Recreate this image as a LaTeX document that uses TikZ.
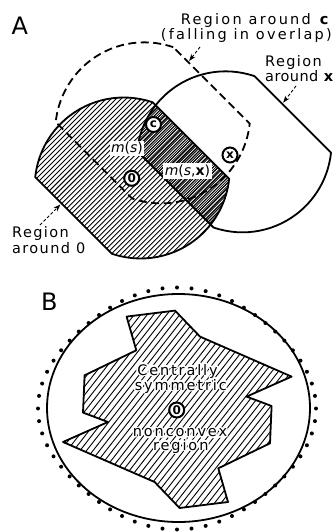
\documentclass[tikz,border=0pt]{standalone}
\usepackage{fontspec}
\setmainfont{DejaVu Sans}
\newfontfamily\labfont{DejaVu Sans}[LetterSpace=9.5]
\newfontfamily\labfontwide{DejaVu Sans}[LetterSpace=15.5]
\newfontfamily\labfontmid{DejaVu Sans}[LetterSpace=13]
\newfontfamily\labfonttight{DejaVu Sans}[LetterSpace=3]
\usepackage{contour}
\contourlength{1.4pt}
\contournumber{16}
\usetikzlibrary{arrows.meta}

\tikzset{
  outline/.style={line width=1.8pt, line join=round},
  dashline/.style={line width=1.8pt, dash pattern=on 8pt off 4.5pt},
  hatch/.style={line width=0.9pt},
  densehatch/.style={line width=0.75pt},
  lab/.style={font=\labfont\fontsize{14.5}{16}\selectfont, inner sep=0pt},
  labwide/.style={font=\labfontwide\fontsize{14.5}{16}\selectfont, inner sep=0pt},
  labtight/.style={font=\labfonttight\fontsize{14.5}{16}\selectfont, inner sep=0pt},
  blab/.style={font=\labfontmid\fontsize{14.5}{16}\selectfont, inner sep=0pt},
  mlab/.style={font=\fontsize{14}{16}\selectfont, fill=white, inner sep=1.5pt},
  panel/.style={font=\fontsize{24}{24}\selectfont, inner sep=0pt},
  pointer/.style={line width=0.9pt, dash pattern=on 3pt off 2pt, -{Stealth[length=7pt,width=5pt]}},
  sym/.style={circle, draw, line width=2pt, fill=white, inner sep=0pt, minimum size=15pt, font=\bfseries\fontsize{12}{12}\selectfont},
  ofr/.style={shift={(132.2,178)}, x={(0.7071pt,-0.7071pt)}, y={(0.7071pt,0.7071pt)}},
  xfr/.style={shift={(53.5,90.5)}},
  cfr/.style={shift={(-24.5,53.5)}},
  dotmark/.style={fill=black},
}
\def\regionpath{(-39,68) arc[start angle=116, end angle=219, radius=89] -- (39,-68) arc[start angle=-64, end angle=39, radius=89] -- cycle}
\def\polyB{(-50.7,-92.7) -- (-2.3,-98.7) -- (22.7,-72.7) -- (114.3,-32.7) -- (69.3,-12.7) -- (94.3,-3.3) -- (92.7,34) -- (41,59) -- (50.7,92.7) -- (2.3,98.7) -- (-22.7,72.7) -- (-114.3,32.7) -- (-69.3,12.7) -- (-94.3,3.3) -- (-92.7,-34) -- (-41,-59) -- cycle}

\begin{document}
\begin{tikzpicture}[x=1pt,y=-1pt]
\useasboundingbox (0,0) rectangle (336,532);

% ---------------- Panel A ----------------
\begin{scope}[ofr]
  \begin{scope}
    \clip \regionpath;
    \foreach \i in {-28,...,28} \draw[hatch] (\i*3.54,-130) -- (\i*3.54,130);
    \begin{scope}[xfr]
      \clip \regionpath;
      \foreach \i in {-80,...,30} \draw[densehatch] (\i*1.95,-130) -- (\i*1.95,130);
    \end{scope}
  \end{scope}
  \draw[outline] \regionpath;
  \coordinate (tip0) at (-32,-69.5);
  \begin{scope}[xfr]
    \draw[outline] \regionpath;
    \coordinate (tipx) at (0,69.5);
  \end{scope}
  \begin{scope}[cfr]
    \draw[dashline] \regionpath;
    \coordinate (tipc) at (-18,69.5);
  \end{scope}
\end{scope}

\node[panel, anchor=base west] (pA) at (11.5,35) {A};

\node[labwide, anchor=base east] (lc1) at (331,25) {Region around \textbf{c}};
\node[labwide, anchor=base east] (lc2) at (332,40) {(falling in overlap)};
\node[lab, anchor=base west] (lx1) at (265,66.5) {Region};
\node[labtight, anchor=base west] (lx2) at (265,81.5) {around \textbf{x}};
\node[lab, anchor=base west] (l01) at (12,237.5) {Region};
\node[lab, anchor=base west] (l02) at (12,253) {around 0};

\coordinate (tailc) at (200,47);
\coordinate (tailx) at (296,86);
\coordinate (tail0) at (40,225);
\draw[pointer] (tailc) -- (tipc);
\draw[pointer] (tailx) -- (tipx);
\draw[pointer] (tail0) -- (tip0);

\node[mlab] (ms) at (127,148.5) {\textit{m}(\textit{s})};
\node[mlab] (msx) at (187.5,171) {\textit{m}(\textit{s},\textbf{x})};

\node[sym] (s0) at (131.7,178.3) {0};
\node[sym] (sc) at (153.5,124.5) {c};
\node[sym] (sx) at (230,155) {x};

% ---------------- Panel B ----------------
\node[panel, anchor=base west] (pB) at (41,310) {B};

\draw[outline] (178.5,408) ellipse [x radius=131.5, y radius=114];
\foreach \t in {0,6,...,354} {
  \pgfmathsetmacro\ff{1-0.05*sin(2*\t)*sin(2*\t)}
  \pgfmathsetmacro\ddx{139*\ff*cos(\t)}
  \pgfmathsetmacro\ddy{121*\ff*sin(\t)}
  \fill[dotmark] (177+\ddx,408.5+\ddy) circle[radius=2];
}

\begin{scope}[shift={(177.3,409.3)}]
  \begin{scope}
    \clip \polyB;
    \foreach \i in {-32,...,32}
      \draw[hatch] (\i*6.5+0.616*140,-0.788*140) -- (\i*6.5-0.616*140,0.788*140);
  \end{scope}
  \draw[outline] \polyB;
\end{scope}

\node[blab, anchor=base] (b1) at (177.5,375) {\contour{white}{Centrally}};
\node[blab, anchor=base] (b2) at (180.8,390) {\contour{white}{symmetric}};
\node[blab, anchor=base] (b3) at (180,436.7) {\contour{white}{nonconvex}};
\node[blab, anchor=base] (b4) at (180.8,450) {\contour{white}{region}};
\node[sym] (sB) at (176.7,410) {0};

\end{tikzpicture}
\end{document}
